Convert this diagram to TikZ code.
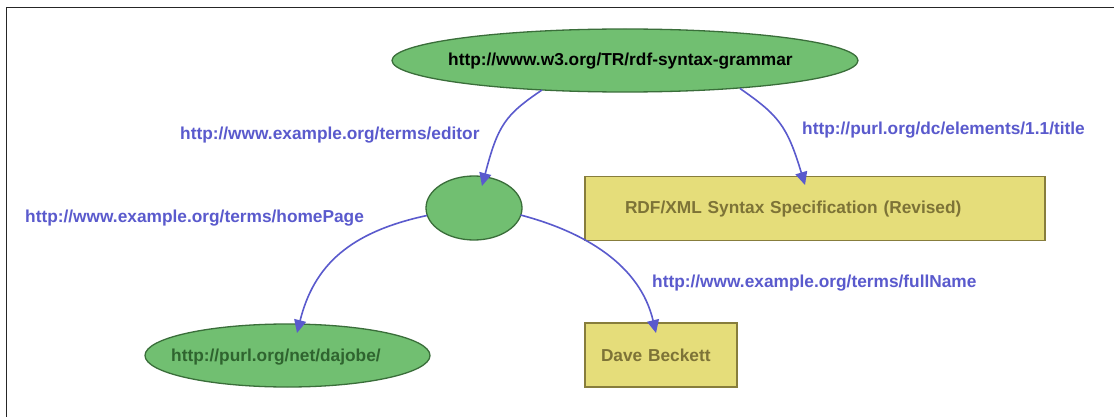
\documentclass[tikz,border=0pt]{standalone}
\usepackage{fontspec}
\setmainfont{Liberation Sans}
\usetikzlibrary{arrows.meta,shapes.geometric}
\definecolor{edgeblue}{HTML}{5A5ACD}
\definecolor{nodegreen}{HTML}{71BF71}
\definecolor{nodegreenline}{HTML}{3A6E3A}
\definecolor{litgreen}{HTML}{2F642F}
\definecolor{boxyellow}{HTML}{E5DD7A}
\definecolor{boxline}{HTML}{877D3C}
\definecolor{boxtext}{HTML}{7D7337}
\begin{document}
\begin{tikzpicture}[x=1pt,y=-1pt,
  every node/.style={font=\fontsize{17.3}{20}\selectfont\bfseries},
  resnode/.style={ellipse, draw=nodegreenline, fill=nodegreen, line width=1.3pt, inner sep=0pt},
  litnode/.style={rectangle, draw=boxline, fill=boxyellow, line width=1.3pt, text=boxtext, align=left, minimum height=64pt, inner ysep=0pt},
  edgelabel/.style={text=edgeblue, anchor=base west, inner sep=0pt},
  nodetext/.style={anchor=base west, inner sep=0pt},
  rel/.style={draw=edgeblue, line width=1.6pt, -{Triangle[length=13pt,width=12pt]}},
]
\useasboundingbox (0,0) rectangle (1114,417);
\fill[white] (0,0) rectangle (1114,417);
\draw[line width=1.5pt, color=black!85] (6.5,417) -- (6.5,7.5) -- (1114,7.5);

% nodes
\node[resnode, minimum width=466pt, minimum height=63pt] (doc) at (625,60.5) {};
\node[nodetext] (docT) at (448,66) {http://www.w3.org/TR/rdf-syntax-grammar};
\node[resnode, minimum width=96pt, minimum height=64pt] (ed) at (474,208) {};
\node[resnode, minimum width=285pt, minimum height=63pt] (hp) at (287.5,355.5) {};
\node[nodetext, text=litgreen] (hpT) at (171,361) {http://purl.org/net/dajobe/};
\node[litnode, text width=380pt, inner xsep=40pt] (title) at (815,208.7) {RDF/XML Syntax Specification (Revised)};
\node[litnode, text width=120pt, inner xsep=16pt] (dave) at (661,355) {Dave Beckett};

% edge labels
\node[edgelabel] (lEditor) at (180,139.5) {http://www.example.org/terms/editor};
\node[edgelabel] (lTitle) at (802,135) {http://purl.org/dc/elements/1.1/title};
\node[edgelabel] (lHome) at (25,222) {http://www.example.org/terms/homePage};
\node[edgelabel] (lFull) at (652,287.3) {http://www.example.org/terms/fullName};

% edges
\draw[rel] ([shift={(-83,29.5)}]doc.center) .. controls (505,115) and (498,125) .. ([shift={(8,-22)}]ed.center);
\draw[rel] ([shift={(115,28)}]doc.center) .. controls (778,115) and (787,125) .. ([shift={(-10,9)}]title.north);
\draw[rel] ([shift={(-47,7.5)}]ed.center) .. controls (350,232) and (314,265) .. ([shift={(9.5,-22.5)}]hp.center);
\draw[rel] ([shift={(46.5,7)}]ed.center) .. controls (585,232) and (640,265) .. ([shift={(-5,-22)}]dave.center);
\end{tikzpicture}
\end{document}
